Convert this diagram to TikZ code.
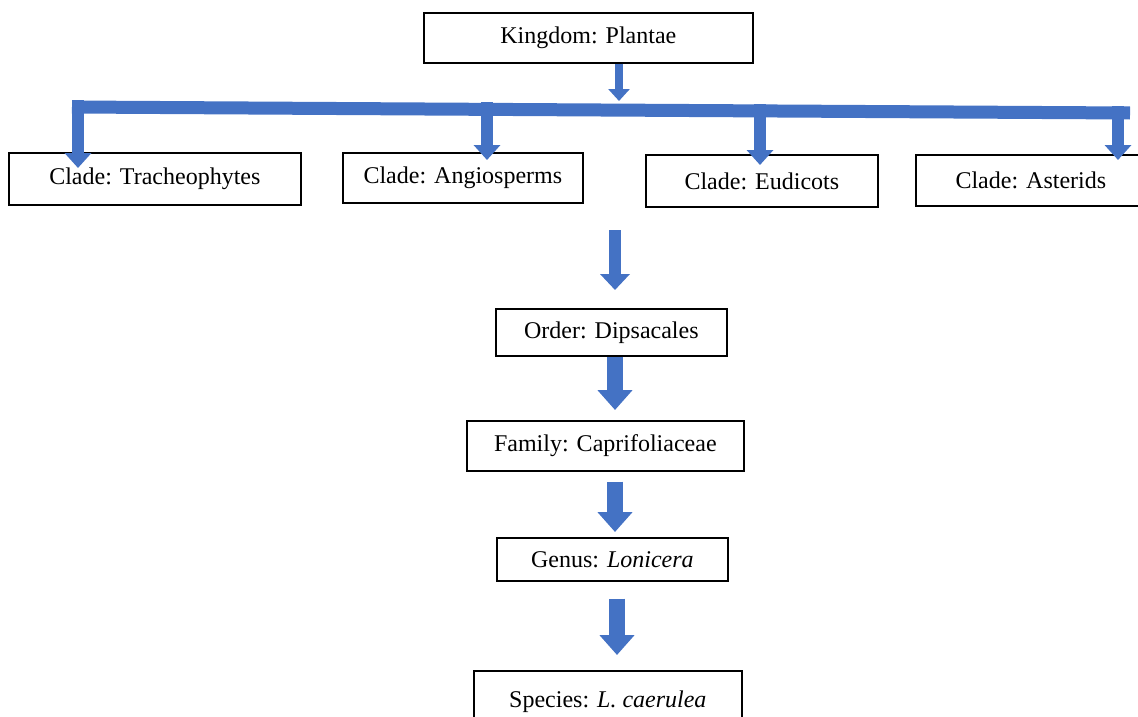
\documentclass[tikz,border=0pt]{standalone}
\usepackage{fontspec}
\setmainfont{Liberation Serif}
\usetikzlibrary{arrows.meta}
\definecolor{arrowblue}{HTML}{4472C4}

\begin{document}
\begin{tikzpicture}[x=1pt, y=-1pt,
  box/.style={rectangle, draw, line width=1.7pt, anchor=north west, inner sep=0pt, font=\fontsize{24}{28}\selectfont},
  bar/.style={line width=13pt, arrowblue},
  thinarrow/.style={line width=8pt, arrowblue, -{Triangle[width=21pt, length=12pt]}},
  drop/.style={line width=12pt, arrowblue, -{Triangle[width=26pt, length=15pt]}},
  bigarrow/.style={line width=16pt, arrowblue, -{Triangle[width=34pt, length=20pt]}}
]
\useasboundingbox (0,0) rectangle (1138,717);

% Kingdom
\node[box, minimum width=329pt, minimum height=50pt] (kingdom) at (423,12) {Kingdom: Plantae};

% Clades
\node[box, minimum width=292pt, minimum height=52pt] (trach) at (8,152) {Clade: Tracheophytes};
\node[box, minimum width=240pt, minimum height=50pt] (angio) at (342,152) {Clade: Angiosperms};
\node[box, minimum width=232pt, minimum height=52pt] (eudic) at (645,154) {Clade: Eudicots};
\node[box, minimum width=230pt, minimum height=51pt] (aster) at (915,154) {Clade: Asterids};

% Ranks below
\node[box, minimum width=231pt, minimum height=47pt] (order) at (495,308) {Order: Dipsacales};
\node[box, minimum width=277pt, minimum height=50pt] (family) at (466,420) {Family: Caprifoliaceae};
\node[box, minimum width=231pt, minimum height=43pt] (genus) at (496,537) {Genus: \textit{Lonicera}};
\node[box, minimum width=268pt, minimum height=62pt] (species) at (473,670) {Species: \textit{L. caerulea}};

% Bar under kingdom
\coordinate (barL) at (72,107);
\coordinate (barR) at (1130,113);
\draw[bar] (barL) -- (barR);
\draw[thinarrow] (kingdom.south -| 619,0) -- (619,101);

% Drops to the clades
\coordinate (d1) at (78,100);
\coordinate (d2) at (487,102);
\coordinate (d3) at (760,104);
\coordinate (d4) at (1118,106);
\draw[drop, shorten >=-16pt] (d1) -- (d1 |- trach.north);
\draw[drop, shorten >=-8pt] (d2) -- (d2 |- angio.north);
\draw[drop, shorten >=-11pt] (d3) -- (d3 |- eudic.north);
\draw[drop, shorten >=-6pt] (d4) -- (d4 |- aster.north);

% Down the ranks
\coordinate (col) at (615,230);
\draw[drop, line width=12pt, -{Triangle[width=29pt, length=16pt]}, shorten >=18pt] (col) -- (col |- order.north);
\draw[bigarrow, shorten >=10pt] (order.south -| col) -- (family.north -| col);
\draw[bigarrow, shorten <=10pt, shorten >=5pt] (family.south -| col) -- (genus.north -| col);
\draw[bigarrow, shorten <=17pt, shorten >=15pt] (genus.south -| 617,0) -- (species.north -| 617,0);
\end{tikzpicture}
\end{document}
